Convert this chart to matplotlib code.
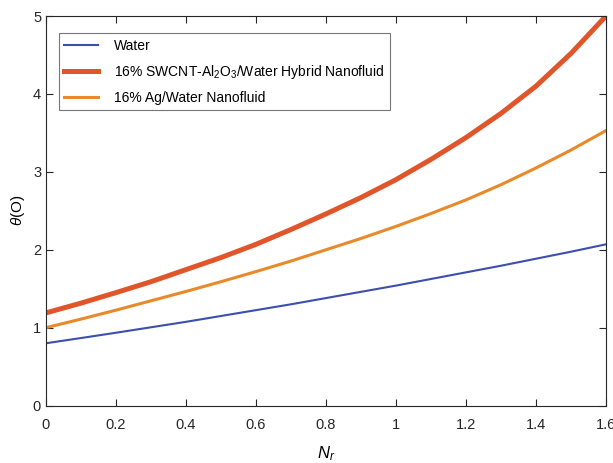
import numpy as np
import matplotlib.pyplot as plt
plt.rcParams.update({'font.family': 'Liberation Sans',
                     'mathtext.fontset': 'custom',
                     'mathtext.rm': 'Liberation Sans',
                     'mathtext.it': 'Liberation Sans:italic',
                     'mathtext.bf': 'Liberation Sans:bold'})

nr = [0.0, 0.1, 0.2, 0.3, 0.4, 0.5, 0.6, 0.7, 0.8,
      0.9, 1.0, 1.1, 1.2, 1.3, 1.4, 1.5, 1.6]
water = [0.80, 0.867, 0.935, 1.005, 1.075, 1.15, 1.225, 1.30, 1.38,
         1.46, 1.54, 1.625, 1.71, 1.795, 1.885, 1.975, 2.07]
hybrid = [1.19, 1.315, 1.45, 1.59, 1.745, 1.90, 2.07, 2.26, 2.46,
          2.67, 2.90, 3.16, 3.44, 3.75, 4.10, 4.52, 5.0]
ag = [1.0, 1.11, 1.225, 1.345, 1.465, 1.59, 1.72, 1.855, 2.0,
      2.145, 2.30, 2.465, 2.64, 2.835, 3.05, 3.28, 3.53]

labels = ['Water',
          '16% SWCNT-Al$_2$O$_3$/Water Hybrid Nanofluid',
          '16% Ag/Water Nanofluid']

fig = plt.figure(figsize=(6.13, 4.63), dpi=100)
ax = fig.add_axes([0.075, 0.124, 0.9136, 0.8414])

ax.plot(nr, water, color='#3c4fae', lw=1.5, label=labels[0])
ax.plot(nr, hybrid, color='#e0562a', lw=3.6, label=labels[1])
ax.plot(nr, ag, color='#e8892a', lw=2.2, label=labels[2])

ax.set_xlim(0, 1.6)
ax.set_ylim(0, 5)
ax.set_xticks(np.arange(0, 1.61, 0.2))
ax.set_xticklabels(['0', '0.2', '0.4', '0.6', '0.8', '1', '1.2', '1.4', '1.6'])
ax.set_yticks(range(6))
ax.tick_params(direction='in', top=True, right=True, labelsize=10.5,
               colors='#262626', length=5, width=0.8)
ax.tick_params(axis='x', pad=9)
for s in ax.spines.values():
    s.set_color('#262626')
    s.set_linewidth(0.8)

ax.set_xlabel('$N_r$', fontsize=12, labelpad=9)
ax.set_ylabel(r'$\theta$(O)', fontsize=11, labelpad=4)

leg = ax.legend(loc='upper left', bbox_to_anchor=(0.023, 0.956), fontsize=10,
                fancybox=False, edgecolor='#555555', handlelength=2.45,
                borderpad=0.4, borderaxespad=0, labelspacing=0.72,
                handletextpad=1.1)
leg.get_frame().set_linewidth(0.8)

fig.savefig('out.png', dpi=100)
